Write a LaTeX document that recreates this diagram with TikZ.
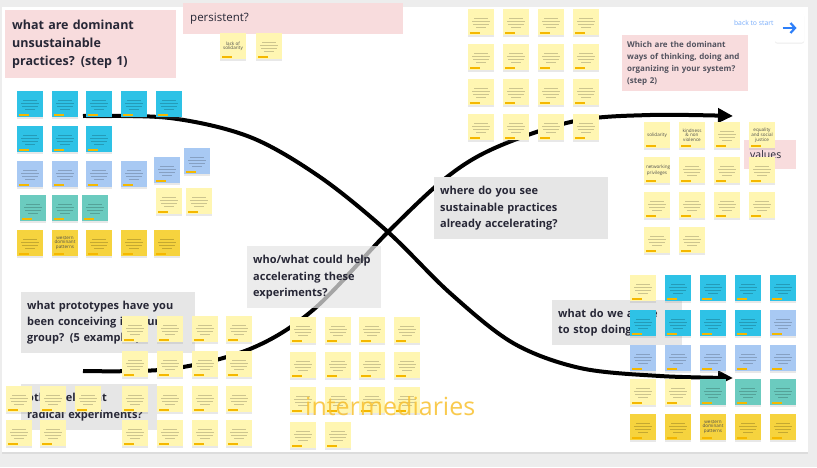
\documentclass[tikz,border=0pt]{standalone}
\usepackage{fontspec}
\setmainfont{Open Sans}
\usetikzlibrary{arrows.meta, shadows}
\usepackage{xcolor}

\definecolor{boardgray}{HTML}{EDEDED}
\definecolor{boxpink}{HTML}{F8DCDD}
\definecolor{boxgray}{HTML}{E6E6E6}
\definecolor{titletext}{HTML}{272736}
\definecolor{stickycyan}{HTML}{2EC2E6}
\definecolor{stickyblue}{HTML}{A8C9F3}
\definecolor{stickyteal}{HTML}{6BCBBF}
\definecolor{stickyyellow}{HTML}{F6D33E}
\definecolor{stickylight}{HTML}{FFF6B2}
\definecolor{stickytab}{HTML}{F5B800}
\definecolor{linkblue}{HTML}{2D7FF9}
\definecolor{interorange}{HTML}{F8C130}

\tikzset{
  sticky/.style={fill=#1, minimum size=26pt, inner sep=1pt, text width=22pt, align=center,
    font=\fontsize{3.8}{4.4}\selectfont, text=black!70,
    drop shadow={shadow xshift=0pt, shadow yshift=-1.6pt, opacity=.18}},
  scribble/.style={path picture={
    \foreach \k/\w in {4/7,1/9,-2/8,-5/5}
      \draw[black, opacity=.2, line width=.6pt]
        ([xshift=-\w*1pt, yshift=\k*1pt]path picture bounding box.center) --
        ([xshift=\w*1pt, yshift=\k*1pt]path picture bounding box.center);
  }},
  pinkbox/.style={fill=boxpink, anchor=north west, align=left, inner xsep=7pt, text=titletext},
  graybox/.style={fill=boxgray, anchor=north west, align=left, inner xsep=6pt, text=titletext,
    font=\fontsize{11}{16.3}\selectfont\bfseries},
  loopline/.style={line width=4pt, -{Triangle[length=15pt, width=14pt]}},
}

% sticky note with unreadable text: name, x, y, colour
\newcommand{\stickynote}[4]{%
  \node[sticky=#4, scribble] (#1) at (#2+13,#3+13) {};
  \fill[stickytab] ([xshift=2pt,yshift=1pt]#1.south west) rectangle ([xshift=12pt,yshift=3.3pt]#1.south west);
}
% sticky note with readable text: name, x, y, colour, text
\newcommand{\stickylabel}[5]{%
  \node[sticky=#4] (#1) at (#2+13,#3+13) {#5};
  \fill[stickytab] ([xshift=2pt,yshift=1pt]#1.south west) rectangle ([xshift=12pt,yshift=3.3pt]#1.south west);
}

\begin{document}
\begin{tikzpicture}[x=1pt, y=-1pt]
        \useasboundingbox (0,0) rectangle (817,467);
        % Draw board background
        \fill[boardgray] (0,0) rectangle (817,467);
        \fill[white, drop shadow={shadow xshift=0pt, shadow yshift=-2pt, opacity=.15}] (2,7) rectangle (808,452);

        % Draw the two loops
        \coordinate (a-start) at (83,116);
        \coordinate (a-end) at (733,378);
        \coordinate (b-start) at (83,371);
        \coordinate (b-end) at (733,116);
        \coordinate (cross) at (388,232);
        \draw[loopline] plot[smooth, tension=.55] coordinates {(a-start) (170,118) (250,137) (320,177) (cross) (450,293) (513,343) (580,368) (660,376) (a-end)};
        \draw[loopline] plot[smooth, tension=.55] coordinates {(b-start) (170,369) (250,349) (313,310) (cross) (447,177) (497,147) (575,121) (650,115) (b-end)};

        % Draw question boxes
        \node[pinkbox, minimum width=171pt, minimum height=68pt, text width=157pt,
          font=\fontsize{12.5}{18}\selectfont\bfseries] (step1) at (5,10) {what are dominant\\unsustainable\\practices? (step 1)};
        \node[pinkbox, minimum width=220pt, minimum height=31pt, text width=206pt,
          font=\fontsize{11.5}{14}\selectfont] (persist) at (183,3) {persistent?};
        \node[pinkbox, inner xsep=5pt, minimum width=126pt, minimum height=56pt, text width=116pt,
          font=\fontsize{8}{12}\selectfont\bfseries, text=titletext!80] (step2) at (622,35)
          {Which are the dominant\\ways of thinking, doing and\\organizing in your system?\\(step 2)};
        \node[pinkbox, inner xsep=6pt, minimum width=52pt, minimum height=29pt, text width=40pt,
          font=\fontsize{10.5}{12}\selectfont] (values) at (744,140) {values};
        \node[graybox, minimum width=174pt, minimum height=62pt, text width=162pt] (where) at (434,177)
          {where do you see\\sustainable practices\\already accelerating?};
        \node[graybox, fill opacity=.72, text opacity=1, minimum width=134pt, minimum height=62pt, text width=122pt] (who) at (247,246)
          {who/what could help\\accelerating these\\experiments?};
        \node[graybox, minimum width=174pt, minimum height=61pt, text width=162pt] (proto) at (21,292)
          {what prototypes have you\\been conceiving in your\\group? (5 examples)};
        \node[graybox, minimum width=136pt, minimum height=46pt, text width=124pt] (other) at (21,384)
          {other relevant\\radical experiments?};
        \node[graybox, minimum width=130pt, minimum height=45pt, text width=118pt] (stop) at (552,300)
          {what do we agree\\to stop doing?};

        % Draw back to start link
        \node[anchor=east, text=linkblue!65, font=\fontsize{6.8}{8}\selectfont] (backtxt) at (777,23) {back to start};
        \node[fill=white, rounded corners=2pt, minimum size=29pt,
          drop shadow={shadow xshift=0pt, shadow yshift=-1pt, opacity=.15}] (backbtn) at (789.5,28) {};
        \draw[linkblue, line width=2.2pt, -{Straight Barb[length=4.5pt, width=10pt]}]
          ([xshift=-7pt]backbtn.center) -- ([xshift=7pt]backbtn.center);

        % Draw step 1 stickies
        \foreach \x in {17,52,86,121,156} {\stickynote{tl-a\x}{\x}{91}{stickycyan}}
        \foreach \x in {17,52,86} {\stickynote{tl-b\x}{\x}{126}{stickycyan}}
        \foreach \x in {17,52,86,121} {\stickynote{tl-c\x}{\x}{161}{stickyblue}}
        \stickynote{tl-c154}{154}{157}{stickyblue}
        \stickynote{tl-c184}{184}{148}{stickyblue}
        \foreach \x in {20,52,82} {\stickynote{tl-d\x}{\x}{195}{stickyteal}}
        \foreach \x in {156,186} {\stickynote{tl-d\x}{\x}{188}{stickylight}}
        \foreach \x in {17,86,121,154} {\stickynote{tl-e\x}{\x}{230}{stickyyellow}}
        \stickylabel{tl-e52}{52}{230}{stickyyellow}{\fontsize{4.6}{5.4}\selectfont western dominant patterns}

        % Draw persistent stickies
        \stickylabel{ps-1}{220}{33}{stickylight}{\fontsize{4.6}{5.4}\selectfont lack of solidarity}
        \stickynote{ps-2}{256}{33}{stickylight}

        % Draw accelerating stickies
        \foreach \x in {468,503,538,573} {
          \foreach \y in {9,44,79,114} {\stickynote{ac-\x-\y}{\x}{\y}{stickylight}}
        }

        % Draw step 2 stickies
        \stickylabel{vl-1}{644}{122}{stickylight}{\fontsize{4.6}{5.4}\selectfont solidarity}
        \stickylabel{vl-2}{679}{122}{stickylight}{\fontsize{4.6}{5.4}\selectfont kindness \& non violence}
        \stickynote{vl-3}{714}{122}{stickylight}
        \stickylabel{vl-4}{749}{122}{stickylight}{\fontsize{4.6}{5.4}\selectfont equality and social justice}
        \stickylabel{vl-5}{644}{157}{stickylight}{\fontsize{4.6}{5.4}\selectfont networking privileges}
        \foreach \x in {679,714,749} {\stickynote{vl-b\x}{\x}{157}{stickylight}}
        \foreach \x in {644,679,714,749} {\stickynote{vl-c\x}{\x}{192}{stickylight}}
        \foreach \x in {644,679} {\stickynote{vl-d\x}{\x}{227}{stickylight}}

        % Draw prototype stickies
        \foreach \x in {122,157,192,226} {
          \foreach \y in {316,351,386,420} {\stickynote{pr-\x-\y}{\x}{\y}{stickylight}}
        }
        \foreach \x/\y in {6/386,40/386,75/386,6/420,40/420} {\stickynote{ot-\x-\y}{\x}{\y}{stickylight}}

        % Draw intermediaries stickies
        \foreach \x in {290,325,359,394} {
          \foreach \y in {317,352,387} {\stickynote{im-\x-\y}{\x}{\y}{stickylight}}
        }
        \foreach \x in {290,325} {\stickynote{im-\x-422}{\x}{422}{stickylight}}

        % Draw stop doing stickies
        \foreach \x/\c in {630/stickylight,665/stickycyan,700/stickycyan,735/stickycyan,770/stickycyan} {\stickynote{sd-a\x}{\x}{275}{\c}}
        \foreach \x/\c in {630/stickycyan,665/stickycyan,700/stickycyan,735/stickycyan,770/stickyblue} {\stickynote{sd-b\x}{\x}{310}{\c}}
        \foreach \x in {630,665,700,735,770} {\stickynote{sd-c\x}{\x}{345}{stickyblue}}
        \foreach \x/\c in {630/stickylight,665/stickylight,700/stickyteal,735/stickyteal,770/stickyteal} {\stickynote{sd-d\x}{\x}{379}{\c}}
        \foreach \x in {630,665,735,770} {\stickynote{sd-e\x}{\x}{414}{stickyyellow}}
        \stickylabel{sd-e700}{700}{414}{stickyyellow}{\fontsize{4.6}{5.4}\selectfont western dominant patterns}

        % Draw intermediaries label
        \node[anchor=base west, inner sep=0pt, text=interorange, text opacity=.85,
          font=\fontsize{25}{28}\selectfont] (inter) at (305,415) {intermediaries};
\end{tikzpicture}
\end{document}
